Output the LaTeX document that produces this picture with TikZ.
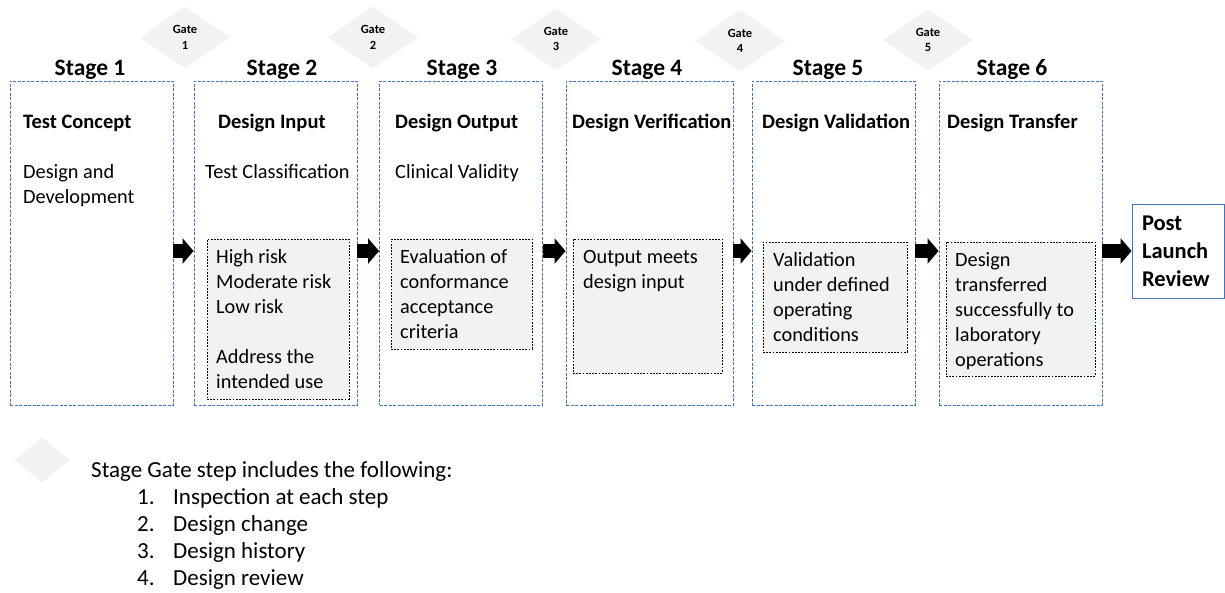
\documentclass[tikz,border=0pt]{standalone}
\usepackage{fontspec}
\setmainfont{Carlito}
\usetikzlibrary{shapes.geometric,arrows.meta}
\definecolor{stageblue}{HTML}{4472C4}
\definecolor{panelgray}{HTML}{F2F2F2}

\begin{document}
\begin{tikzpicture}[x=1pt,y=-1pt,
  stagebox/.style={draw=stageblue,line width=0.9pt,dash pattern=on 3pt off 1.5pt,minimum height=324pt},
  panel/.style={draw=black,fill=panelgray,line width=0.7pt,dash pattern=on 1.8pt off 1.4pt},
  gate/.style={diamond,fill=panelgray,inner sep=0pt,minimum width=90pt,minimum height=62pt,align=center,font=\bfseries\fontsize{12.5}{15.5}\selectfont},
  stagetitle/.style={anchor=base,inner sep=0pt,font=\bfseries\fontsize{23.5}{28}\selectfont},
  stagehead/.style={anchor=base west,inner sep=0pt,font=\bfseries\fontsize{20.5}{25}\selectfont},
  boxtext/.style={anchor=base west,inner sep=0pt,align=left,font=\fontsize{20.3}{25}\selectfont},
  flow/.style={line width=14pt,-{Triangle[length=11pt,width=25pt]}}]
  \useasboundingbox (0,0) rectangle (1225,592);

  \foreach \i/\cx/\cy in {1/185/37.5,2/373/37.5,3/556/39,4/740/41,5/928/40} {
    \node[gate] (g\i) at (\cx,\cy) {Gate\\\i};
  }
  \foreach \i/\cx in {1/90,2/282,3/462,4/647,5/828,6/1012} {
    \node[stagetitle] (t\i) at (\cx,75) {Stage \i};
  }
  \foreach \i/\cx/\w in {1/91.5/163,2/275.5/163,3/461/163,4/649.5/167,5/833.5/163,6/1020.5/163} {
    \node[stagebox,minimum width=\w] (s\i) at (\cx,243) {};
  }

  \node[stagehead] (h1) at (23,128) {Test Concept};
  \node[stagehead] (h2) at (218,128) {Design Input};
  \node[stagehead] (h3) at (395,128) {Design Output};
  \node[stagehead] (h4) at (572,128) {Design Verification};
  \node[stagehead] (h5) at (762,128) {Design Validation};
  \node[stagehead] (h6) at (947,128) {Design Transfer};
  \node[boxtext] (n1) at (23,203) {Design and\\Development};
  \node[boxtext] (n2) at (205,178) {Test Classification};
  \node[boxtext] (n3) at (395,178) {Clinical Validity};

  \node[panel,minimum width=142,minimum height=160] (b2) at (278,319) {};
  \node[panel,minimum width=141,minimum height=110] (b3) at (461.5,294) {};
  \node[panel,minimum width=149,minimum height=134] (b4) at (647.5,306) {};
  \node[panel,minimum width=144,minimum height=110] (b5) at (835,297) {};
  \node[panel,minimum width=149,minimum height=134] (b6) at (1020.5,309) {};
  \node[boxtext] (p2) at (216,388) {High risk\\Moderate risk\\Low risk\\[25pt]Address the\\intended use};
  \node[boxtext] (p3) at (400,338) {Evaluation of\\conformance\\acceptance\\criteria};
  \node[boxtext] (p4) at (583,288) {Output meets\\design input};
  \node[boxtext] (p5) at (773,341) {Validation\\under defined\\operating\\conditions};
  \node[boxtext] (p6) at (955,366) {Design\\transferred\\successfully to\\laboratory\\operations};

  \node[draw=stageblue,line width=0.9pt,minimum width=92,minimum height=94,text width=72pt,inner xsep=10pt,align=left,font=\bfseries\fontsize{22.5}{28}\selectfont] (post) at (1178,251) {Post\\Launch\\Review};

  \foreach \a/\b in {s1/s2,s2/s3,s3/s4,s4/s5,s5/s6} {
    \draw[flow] ([yshift=-8pt]\a.east) -- ([yshift=-8pt]\b.west);
  }
  \draw[flow] ([yshift=-8pt]s6.east) -- (post.west);

  \node[gate,minimum width=55,minimum height=45] (key) at (42,460) {};
  \node[anchor=base west,inner sep=0pt,align=left,font=\fontsize{23}{27}\selectfont] (steps) at (91,585) {Stage Gate step includes the following:\\
    \hspace*{46pt}\makebox[36pt][l]{1.}Inspection at each step\\
    \hspace*{46pt}\makebox[36pt][l]{2.}Design change\\
    \hspace*{46pt}\makebox[36pt][l]{3.}Design history\\
    \hspace*{46pt}\makebox[36pt][l]{4.}Design review};
\end{tikzpicture}
\end{document}
